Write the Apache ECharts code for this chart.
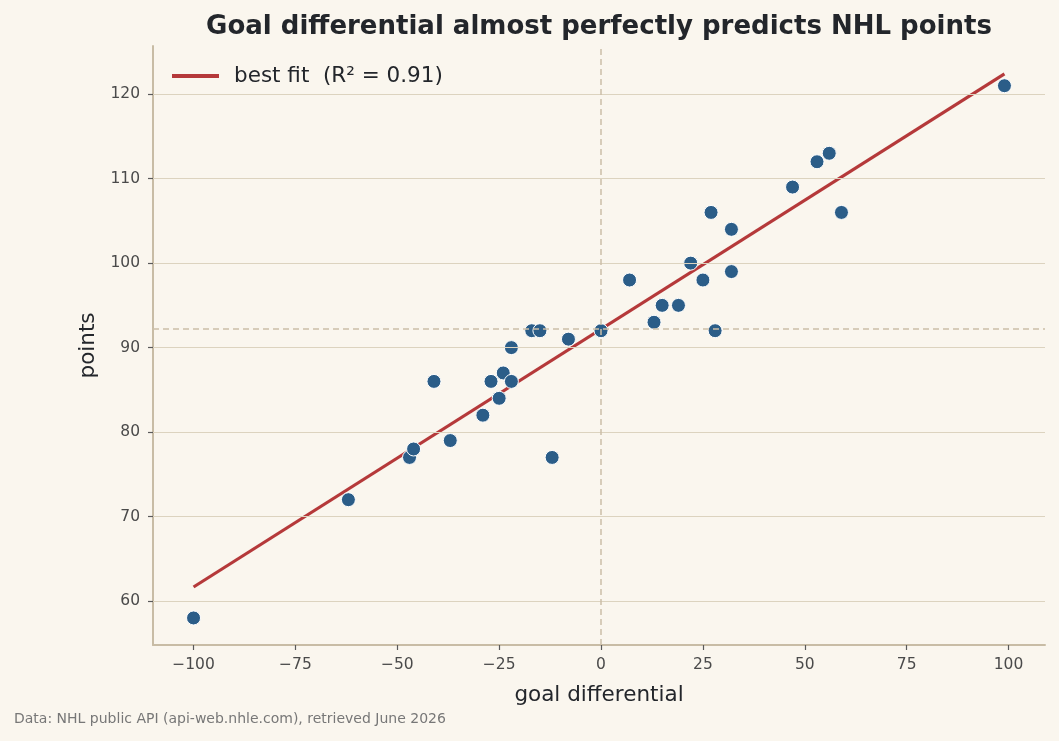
<!DOCTYPE html>
<html>
<head>
<meta charset="utf-8">
<script src="https://cdn.jsdelivr.net/npm/echarts@6/dist/echarts.min.js"></script>
<style>html,body{margin:0;padding:0;background:#faf6ee;}#c{width:1059px;height:741px;}</style>
</head>
<body>
<div id="c"></div>
<script>
const goalDiff = [-100,-62,-47,-46,-37,-41,-29,-27,-25,-24,-22,-22,-17,-15,-12,-8,
                  0,7,13,15,19,22,25,27,28,32,32,47,53,56,59,99];
const points   = [58,72,77,78,79,86,82,86,84,87,86,90,92,92,77,91,
                  92,98,93,95,95,100,98,106,92,104,99,109,112,113,106,121];
const xTicks = [-100,-75,-50,-25,0,25,50,75,100];
const yTicks = [60,70,80,90,100,110,120];
const fitLabel = 'best fit  (R\u00b2 = 0.91)';

const n = goalDiff.length;
const mx = goalDiff.reduce((a,b)=>a+b,0)/n;
const my = points.reduce((a,b)=>a+b,0)/n;
let sxy=0, sxx=0;
for (let i=0;i<n;i++){ sxy+=(goalDiff[i]-mx)*(points[i]-my); sxx+=(goalDiff[i]-mx)**2; }
const slope = sxy/sxx, intercept = my - slope*mx;
const xmin = Math.min(...goalDiff), xmax = Math.max(...goalDiff);
const fitData = [[xmin, intercept+slope*xmin],[xmax, intercept+slope*xmax]];
const scatterData = goalDiff.map((x,i)=>[x, points[i]]);

const font = 'DejaVu Sans';
const spine = '#c8bca5';
const tickCol = '#5a5a5a';
const chart = echarts.init(document.getElementById('c'));
chart.setOption({
  backgroundColor: '#faf6ee',
  animation: false,
  textStyle: {fontFamily: font},
  title: {
    text: 'Goal differential almost perfectly predicts NHL points',
    left: 594, textAlign: 'center', top: 9,
    textStyle: {fontFamily: font, fontSize: 26, fontWeight: 'bold', color: '#23262b'}
  },
  legend: {
    left: 167, top: 60,
    itemWidth: 47, itemHeight: 4,
    icon: 'rect',
    textStyle: {fontFamily: font, fontSize: 21.5, color: '#23262b', padding: [0,0,0,10]},
    data: [{name: fitLabel}]
  },
  grid: {left: 153, right: 14, top: 46, bottom: 96},
  xAxis: {
    type: 'value', min: -109.95, max: 108.95,
    name: 'goal differential', nameLocation: 'middle', nameGap: 39,
    nameTextStyle: {fontFamily: font, fontSize: 21.5, color: '#23262b'},
    axisLine: {show: true, onZero: false, lineStyle: {color: spine, width: 2}},
    axisTick: {show: true, length: 5, lineStyle: {color: tickCol, width: 1.2}, customValues: xTicks},
    axisLabel: {customValues: xTicks, fontFamily: font, fontSize: 15.5, color: '#4a4a4a', margin: 12,
      formatter: v => (v < 0 ? '\u2212' + Math.abs(v) : String(v))},
    splitLine: {show: false}
  },
  yAxis: {
    type: 'value', min: 54.8, max: 125.7,
    name: 'points', nameLocation: 'middle', nameGap: 54, nameRotate: 90,
    nameTextStyle: {fontFamily: font, fontSize: 21.5, color: '#23262b'},
    axisLine: {show: true, onZero: false, lineStyle: {color: spine, width: 2}},
    axisTick: {show: true, length: 5, lineStyle: {color: tickCol, width: 1.2}, customValues: yTicks},
    axisLabel: {customValues: yTicks, fontFamily: font, fontSize: 15.5, color: '#4a4a4a', margin: 13},
    splitLine: {show: false}
  },
  series: [
    {
      type: 'line', name: 'grid', silent: true, data: [], z: 1,
      markLine: {
        silent: true, symbol: 'none', label: {show: false},
        lineStyle: {color: '#dcd3bf', width: 1.2, type: 'solid'},
        data: yTicks.map(v => ({yAxis: v}))
      }
    },
    {
      type: 'line', name: 'ref', silent: true, data: [], z: 2,
      markLine: {
        silent: true, symbol: 'none', label: {show: false},
        lineStyle: {color: '#cbbfa8', width: 1.5, type: [6, 4]},
        data: [{xAxis: mx}, {yAxis: my}]
      }
    },
    {
      type: 'line', name: fitLabel, data: fitData, showSymbol: false, z: 3,
      lineStyle: {color: '#b5393a', width: 3.2}, itemStyle: {color: '#b5393a'}
    },
    {
      type: 'scatter', name: 'teams', data: scatterData, z: 4,
      symbolSize: 14,
      itemStyle: {color: '#2b5d88', borderColor: '#ffffff', borderWidth: 1, opacity: 1}
    }
  ],
  graphic: [{
    type: 'text', left: 14, top: 712,
    style: {text: 'Data: NHL public API (api-web.nhle.com), retrieved June 2026',
      fontFamily: font, fontSize: 14, fill: '#777777'}
  }]
});
</script>
</body>
</html>
